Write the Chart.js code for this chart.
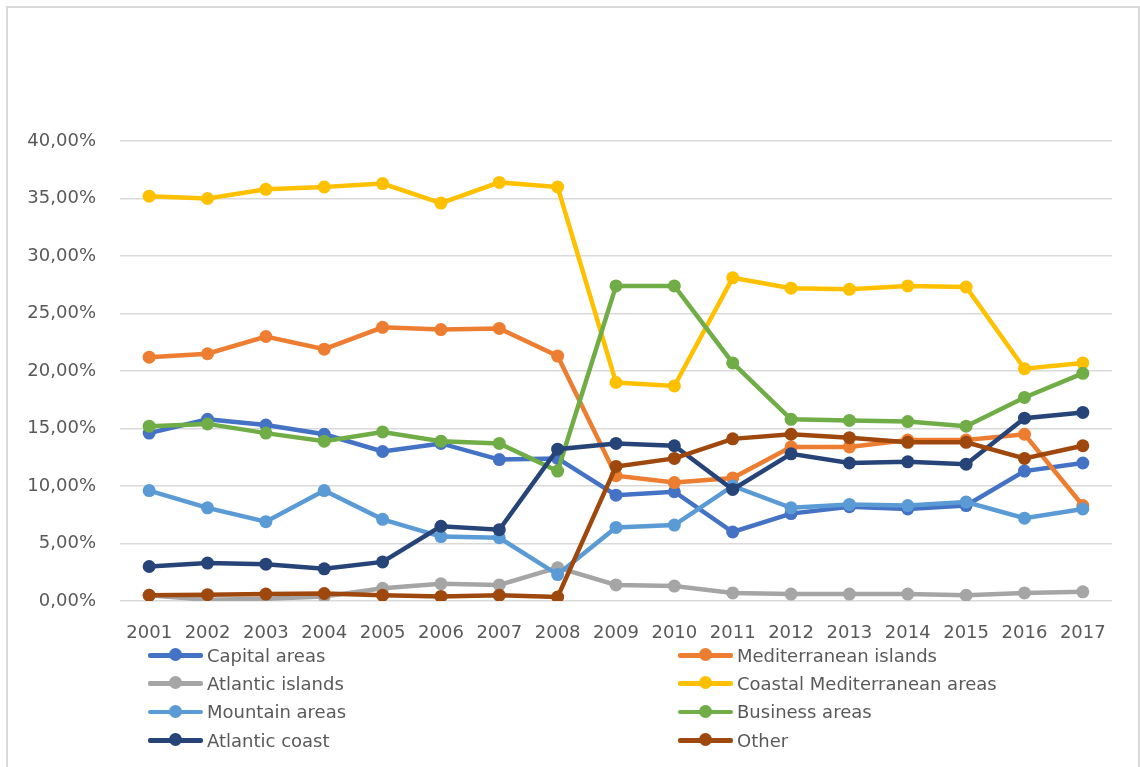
<!DOCTYPE html>
<html>
<head>
<meta charset="utf-8">
<script src="https://cdn.jsdelivr.net/npm/chart.js@4"></script>
<style>
  body { margin: 0; background: #fff; }
  #wrap { position: relative; width: 1140px; height: 767px; overflow: hidden; }
  #frame { position: absolute; left: 6px; top: 6px; width: 1130px; height: 780px; border: 2px solid #d9d9d9; }
  #chart { position: absolute; left: 0; top: 0; }
  #legend {
    position: absolute; left: 148px; top: 641px;
    display: grid; grid-template-columns: 530px auto; grid-auto-rows: 28.3px;
    font: 18px "DejaVu Sans", sans-serif; color: #595959;
  }
  .item { display: flex; align-items: center; white-space: nowrap; }
  .mark { position: relative; width: 55px; height: 14px; margin-right: 4px; flex: none; }
  .mark .ln { position: absolute; left: 0; right: 0; top: 5px; height: 4.5px; border-radius: 2px; }
  .mark .dot { position: absolute; left: 21px; top: 0; width: 13px; height: 13px; border-radius: 50%; }
</style>
</head>
<body>
<div id="wrap">
  <div id="frame"></div>
  <canvas id="chart" width="1140" height="767"></canvas>
  <div id="legend"></div>
</div>
<script>
// Share of each area type, % per year
const years = ['2001', '2002', '2003', '2004', '2005', '2006', '2007', '2008', '2009',
  '2010', '2011', '2012', '2013', '2014', '2015', '2016', '2017'];

const capitalAreas = [14.6, 15.8, 15.3, 14.5, 13.0, 13.7, 12.3, 12.4, 9.2, 9.5, 6.0, 7.6, 8.2, 8.0, 8.3, 11.3, 12.0];
const mediterraneanIslands = [21.2, 21.5, 23.0, 21.9, 23.8, 23.6, 23.7, 21.3, 10.9, 10.3, 10.7, 13.4, 13.4, 14.0, 14.0, 14.5, 8.3];
const atlanticIslands = [0.5, 0.1, 0.2, 0.4, 1.1, 1.5, 1.4, 2.9, 1.4, 1.3, 0.7, 0.6, 0.6, 0.6, 0.5, 0.7, 0.8];
const coastalMediterranean = [35.2, 35.0, 35.8, 36.0, 36.3, 34.6, 36.4, 36.0, 19.0, 18.7, 28.1, 27.2, 27.1, 27.4, 27.3, 20.2, 20.7];
const mountainAreas = [9.6, 8.1, 6.9, 9.6, 7.1, 5.6, 5.5, 2.3, 6.4, 6.6, 10.0, 8.1, 8.4, 8.3, 8.6, 7.2, 8.0];
const businessAreas = [15.2, 15.4, 14.6, 13.9, 14.7, 13.9, 13.7, 11.3, 27.4, 27.4, 20.7, 15.8, 15.7, 15.6, 15.2, 17.7, 19.8];
const atlanticCoast = [3.0, 3.3, 3.2, 2.8, 3.4, 6.5, 6.2, 13.2, 13.7, 13.5, 9.7, 12.8, 12.0, 12.1, 11.9, 15.9, 16.4];
const other = [0.5, 0.55, 0.6, 0.65, 0.5, 0.4, 0.5, 0.35, 11.7, 12.4, 14.1, 14.5, 14.2, 13.8, 13.8, 12.4, 13.5];

const seriesNames = ['Capital areas', 'Mediterranean islands', 'Atlantic islands', 'Coastal Mediterranean areas',
  'Mountain areas', 'Business areas', 'Atlantic coast', 'Other'];
const seriesValues = [capitalAreas, mediterraneanIslands, atlanticIslands, coastalMediterranean,
  mountainAreas, businessAreas, atlanticCoast, other];
const seriesColors = ['#4472C4', '#ED7D31', '#A5A5A5', '#FFC000', '#5B9BD5', '#70AD47', '#264478', '#9E480E'];

const yTicks = [0, 5, 10, 15, 20, 25, 30, 35, 40];

const FONT = { family: '"DejaVu Sans", sans-serif', size: 18 };

const datasets = seriesNames.map((name, i) => ({
  label: name,
  data: seriesValues[i],
  borderColor: seriesColors[i],
  backgroundColor: seriesColors[i],
  pointBackgroundColor: seriesColors[i],
  pointBorderWidth: 0,
  pointRadius: 6.5,
  borderWidth: 4.5,
  tension: 0,
  // later series sit on top of earlier ones
  order: seriesNames.length - i,
}));

const chart = new Chart(document.getElementById('chart'), {
  type: 'line',
  data: { labels: years, datasets },
  options: {
    responsive: false,
    animation: false,
    layout: { padding: { left: 20, right: 28, top: 141, bottom: 126 } },
    plugins: { legend: { display: false }, tooltip: { enabled: false } },
    scales: {
      x: {
        offset: true,
        grid: { display: false },
        border: { display: false },
        ticks: { color: '#595959', font: FONT, padding: 14, maxRotation: 0, autoSkip: false },
        afterFit: (scale) => { scale.height = 40; },
      },
      y: {
        min: 0,
        max: 40,
        afterBuildTicks: (scale) => { scale.ticks = yTicks.map((v) => ({ value: v })); },
        grid: { color: '#d9d9d9', lineWidth: 1.5, drawTicks: false },
        border: { display: false },
        ticks: {
          color: '#595959',
          font: FONT,
          padding: 24,
          callback: (v) => v.toFixed(2).replace('.', ',') + '%',
        },
        afterFit: (scale) => { scale.width = 100; },
      },
    },
  },
});

// Two-column legend built from the chart's datasets
const legendEl = document.getElementById('legend');
chart.data.datasets.forEach((ds) => {
  const item = document.createElement('div');
  item.className = 'item';
  const mark = document.createElement('span');
  mark.className = 'mark';
  const ln = document.createElement('span');
  ln.className = 'ln';
  ln.style.background = ds.borderColor;
  const dot = document.createElement('span');
  dot.className = 'dot';
  dot.style.background = ds.borderColor;
  mark.appendChild(ln);
  mark.appendChild(dot);
  const text = document.createElement('span');
  text.textContent = ds.label;
  item.appendChild(mark);
  item.appendChild(text);
  legendEl.appendChild(item);
});
</script>
</body>
</html>
